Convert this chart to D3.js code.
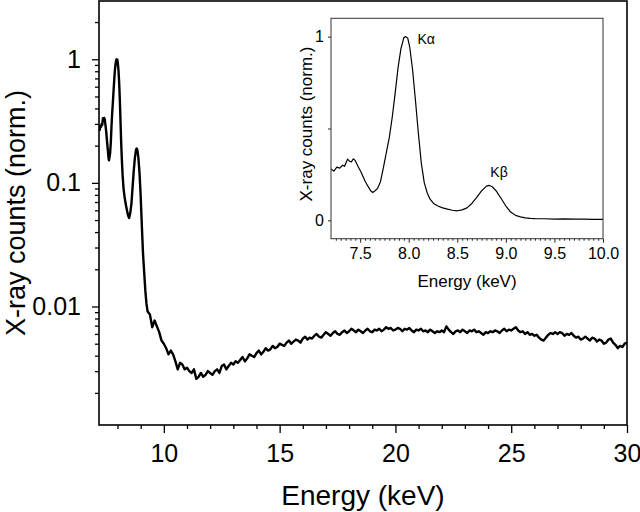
<!DOCTYPE html>
<html><head><meta charset="utf-8">
<script src="https://cdn.jsdelivr.net/npm/d3@7/dist/d3.min.js"></script>
<style>body{margin:0;background:#fff}svg{display:block}text{font-family:"Liberation Sans",Arial,sans-serif;fill:#000}</style>
</head><body><svg id="c" width="640" height="512"></svg>
<script>
// ---- data ----
// [energy keV, normalised counts] - characteristic line region
const peakSpectrum = [
[7.20,0.280],[7.23,0.268],[7.26,0.290],[7.29,0.284],[7.32,0.300],[7.34,0.294],[7.37,0.333],[7.39,0.322],
[7.41,0.318],[7.43,0.335],[7.45,0.325],[7.48,0.292],[7.51,0.262],[7.55,0.214],[7.58,0.186],[7.61,0.160],
[7.63,0.152],[7.65,0.160],[7.68,0.174],[7.71,0.212],[7.74,0.288],[7.77,0.370],[7.80,0.450],[7.83,0.560],
[7.86,0.690],[7.89,0.830],[7.92,0.935],[7.95,0.995],[7.97,1.000],[7.99,0.992],[8.01,0.945],[8.04,0.820],
[8.07,0.650],[8.10,0.470],[8.13,0.310],[8.16,0.205],[8.19,0.150],[8.22,0.115],[8.26,0.090],[8.30,0.078],
[8.35,0.068],[8.40,0.061],[8.45,0.055],[8.50,0.052],[8.55,0.057],[8.60,0.068],[8.65,0.092],[8.70,0.125],
[8.75,0.160],[8.80,0.186],[8.83,0.190],[8.86,0.183],[8.90,0.160],[8.95,0.120],[9.00,0.078],[9.05,0.045],
[9.10,0.027],[9.15,0.019],[9.20,0.0135],[9.25,0.0105]
];
// bremsstrahlung background
const backgroundSpectrum = [
[9.3,.0091],[9.4,.0086],[9.5,.0068],[9.6,.0077],[9.7,.0069],[9.8,.0062],[9.9,.0053],[10.0,.0050],
[10.1,.0046],[10.2,.0041],[10.3,.0044],[10.4,.0041],[10.5,.0036],[10.6,.0031],[10.7,.0035],[10.8,.0034],
[10.9,.0031],[11.0,.0032],[11.1,.0030],[11.2,.0029],[11.3,.0031],[11.4,.0026],[11.5,.0027],[11.6,.0029],
[11.7,.0027],[11.8,.0028],[11.9,.0030],[12.0,.0029],[12.1,.0028],[12.2,.0030],[12.3,.0031],[12.4,.0029],
[12.5,.0033],[12.6,.0034],[12.7,.0031],[12.8,.0033],[12.9,.0035],[13.0,.0034],[13.1,.0036],[13.2,.0035],
[13.3,.0037],[13.4,.0039],[13.5,.0036],[13.6,.0038],[13.7,.0041],[13.8,.0040],[13.9,.0039],[14.0,.0042],
[14.1,.0044],[14.2,.0041],[14.3,.0043],[14.4,.0046],[14.5,.0044],[14.6,.0045],[14.7,.0048],[14.8,.0046],
[14.9,.0047],[15.0,.0050],[15.1,.0049],[15.2,.0048],[15.3,.0051],[15.4,.0053],[15.5,.0050],[15.6,.0052],
[15.7,.0054],[15.8,.0053],[15.9,.0051],[16.0,.0055],[16.1,.0057],[16.2,.0054],[16.3,.0056],[16.4,.0055],
[16.5,.0058],[16.6,.0060],[16.7,.0057],[16.8,.0056],[16.9,.0059],[17.0,.0062],[17.1,.0060],[17.2,.0058],
[17.3,.0061],[17.4,.0063],[17.5,.0060],[17.6,.0059],[17.7,.0062],[17.8,.0064],[17.9,.0061],[18.0,.0063],
[18.1,.0066],[18.2,.0064],[18.3,.0062],[18.4,.0065],[18.5,.0063],[18.6,.0061],[18.7,.0064],[18.8,.0066],
[18.9,.0063],[19.0,.0062],[19.1,.0065],[19.2,.0064],[19.3,.0066],[19.4,.0063],[19.5,.0065],[19.6,.0068],
[19.7,.0066],[19.8,.0067],[19.9,.0064],[20.0,.0065],[20.1,.0067],[20.2,.0066],[20.3,.0063],[20.4,.0066],
[20.5,.0065],[20.6,.0067],[20.7,.0064],[20.8,.0062],[20.9,.0065],[21.0,.0064],[21.1,.0066],[21.2,.0063],
[21.3,.0064],[21.4,.0062],[21.5,.0065],[21.6,.0063],[21.7,.0061],[21.8,.0063],[21.9,.0062],[22.0,.0064],
[22.1,.0062],[22.2,.0069],[22.3,.0065],[22.4,.0062],[22.5,.0060],[22.6,.0063],[22.7,.0064],[22.8,.0062],
[22.9,.0065],[23.0,.0063],[23.1,.0061],[23.2,.0064],[23.3,.0063],[23.4,.0065],[23.5,.0062],[23.6,.0063],
[23.7,.0061],[23.8,.0059],[23.9,.0062],[24.0,.0061],[24.1,.0063],[24.2,.0062],[24.3,.0064],[24.4,.0063],
[24.5,.0061],[24.6,.0064],[24.7,.0066],[24.8,.0063],[24.9,.0065],[25.0,.0064],[25.1,.0066],[25.2,.0068],
[25.3,.0064],[25.4,.0062],[25.5,.0063],[25.6,.0060],[25.7,.0062],[25.8,.0059],[25.9,.0060],[26.0,.0058],
[26.1,.0059],[26.2,.0056],[26.3,.0054],[26.4,.0053],[26.5,.0056],[26.6,.0059],[26.7,.0061],[26.8,.0060],
[26.9,.0062],[27.0,.0060],[27.1,.0062],[27.2,.0061],[27.3,.0058],[27.4,.0060],[27.5,.0059],[27.6,.0061],
[27.7,.0058],[27.8,.0056],[27.9,.0057],[28.0,.0054],[28.1,.0055],[28.2,.0057],[28.3,.0055],[28.4,.0053],
[28.5,.0056],[28.6,.0055],[28.7,.0052],[28.8,.0054],[28.9,.0053],[29.0,.0050],[29.1,.0051],[29.2,.0054],
[29.3,.0055],[29.4,.0051],[29.5,.0049],[29.6,.0046],[29.7,.0048],[29.8,.0047],[29.9,.0050],[30.0,.0051]
];
const xMajorTicks = [10,15,20,25,30];
const xMinorTicks = [8,9,11,12,13,14,16,17,18,19,21,22,23,24,26,27,28,29];
const yMajorTicks = [1,0.1,0.01];
const yMajorLabels = ["1","0.1","0.01"];
const yMinorTicks = [2,0.9,0.8,0.7,0.6,0.5,0.4,0.3,0.2,0.09,0.08,0.07,0.06,0.05,0.04,0.03,0.02,0.009,0.008,0.007,0.006,0.005,0.004,0.003,0.002];
const insetXMajorTicks = [7.5,8.0,8.5,9.0,9.5,10.0];
const insetXMinorTicks = [7.25,7.3,7.35,7.4,7.45,7.55,7.6,7.65,7.7,7.75,7.8,7.85,7.9,7.95,8.05,8.1,8.15,8.2,8.25,8.3,8.35,8.4,8.45,8.55,8.6,8.65,8.7,8.75,8.8,8.85,8.9,8.95,9.05,9.1,9.15,9.2,9.25,9.3,9.35,9.4,9.45,9.55,9.6,9.65,9.7,9.75,9.8,9.85,9.9,9.95];
const insetYTicks = [0,0.5,1];
const insetYLabels = ["0","","1"];
const peakLabels = [{text:"Kα",e:8.18,v:0.985},{text:"Kβ",e:8.93,v:0.265}];

// ---- drawing ----
const svg = d3.select("#c");
const M = {l:99,r:627,t:1,b:425};
const x = d3.scaleLinear().domain([7.2,30]).range([M.l,M.r]);
const y = d3.scaleLog().domain([0.0011,2.96]).range([M.b,M.t]);
const spectrum = peakSpectrum.concat(backgroundSpectrum);

svg.append("clipPath").attr("id","mc").append("rect").attr("x",M.l).attr("y",M.t).attr("width",M.r-M.l).attr("height",M.b-M.t);
svg.append("path").datum(spectrum).attr("clip-path","url(#mc)")
  .attr("fill","none").attr("stroke","#000").attr("stroke-width",2.4).attr("stroke-linejoin","round")
  .attr("d",d3.line().x(d=>x(d[0])).y(d=>y(d[1])));

function styleAxis(g){g.select(".domain").remove();g.selectAll("line").attr("stroke","#000").attr("stroke-width",1.3);}
svg.append("g").attr("transform",`translate(0,${M.b})`)
  .call(d3.axisBottom(x).tickValues(xMinorTicks).tickSize(4).tickFormat(""))
  .call(styleAxis);
svg.append("g").attr("transform",`translate(0,${M.b})`)
  .call(d3.axisBottom(x).tickValues(xMajorTicks).tickSize(8).tickPadding(11).tickFormat(d3.format("d")))
  .call(styleAxis).call(g=>g.selectAll("text").attr("font-size",25));
svg.append("g").attr("transform",`translate(${M.l},0)`)
  .call(d3.axisLeft(y).tickValues(yMinorTicks).tickSize(4).tickFormat(""))
  .call(styleAxis);
svg.append("g").attr("transform",`translate(${M.l},0)`)
  .call(d3.axisLeft(y).tickValues(yMajorTicks).tickSize(7).tickPadding(11).tickFormat((d,i)=>yMajorLabels[i]))
  .call(styleAxis).call(g=>g.selectAll("text").attr("font-size",25));
svg.append("rect").attr("x",M.l).attr("y",M.t).attr("width",M.r-M.l).attr("height",M.b-M.t)
  .attr("fill","none").attr("stroke","#000").attr("stroke-width",1.6);
svg.append("text").attr("x",(M.l+M.r)/2).attr("y",505).attr("text-anchor","middle").attr("font-size",28).text("Energy (keV)");
svg.append("text").attr("transform",`translate(25,${(M.t+M.b)/2}) rotate(-90)`).attr("text-anchor","middle").attr("font-size",27).text("X-ray counts (norm.)");

// ---- inset ----
const I = {l:331,r:603,t:18.3,b:238.7};
const xi = d3.scaleLinear().domain([7.2,10]).range([I.l,I.r]);
const yi = d3.scaleLinear().domain([-0.1,1.1]).range([I.b,I.t]);
const insetData = spectrum.filter(d=>d[0]<=10);
svg.append("clipPath").attr("id","ic").append("rect").attr("x",I.l).attr("y",I.t).attr("width",I.r-I.l).attr("height",I.b-I.t);
svg.append("path").datum(insetData).attr("clip-path","url(#ic)")
  .attr("fill","none").attr("stroke","#000").attr("stroke-width",1.2).attr("stroke-linejoin","round")
  .attr("d",d3.line().x(d=>xi(d[0])).y(d=>yi(d[1])));
function styleInset(g){g.select(".domain").remove();g.selectAll("line").attr("stroke","#222").attr("stroke-width",1);}
svg.append("g").attr("transform",`translate(0,${I.b})`)
  .call(d3.axisBottom(xi).tickValues(insetXMinorTicks).tickSize(2).tickFormat(""))
  .call(styleInset);
svg.append("g").attr("transform",`translate(0,${I.b})`)
  .call(d3.axisBottom(xi).tickValues(insetXMajorTicks).tickSize(4).tickPadding(5).tickFormat(d3.format(".1f")))
  .call(styleInset).call(g=>g.selectAll("text").attr("font-size",16));
svg.append("g").attr("transform",`translate(${I.l},0)`)
  .call(d3.axisLeft(yi).tickValues(insetYTicks).tickSize(3).tickPadding(4).tickFormat((d,i)=>insetYLabels[i]))
  .call(styleInset).call(g=>g.selectAll("text").attr("font-size",16));
svg.append("rect").attr("x",I.l).attr("y",I.t).attr("width",I.r-I.l).attr("height",I.b-I.t)
  .attr("fill","none").attr("stroke","#333").attr("stroke-width",1);
svg.append("text").attr("x",(I.l+I.r)/2).attr("y",287).attr("text-anchor","middle").attr("font-size",17).text("Energy (keV)");
svg.append("text").attr("transform",`translate(312,124) rotate(-90)`).attr("text-anchor","middle").attr("font-size",17).text("X-ray counts (norm.)");
svg.selectAll("text.pk").data(peakLabels).enter().append("text").attr("class","pk")
  .attr("x",d=>xi(d.e)).attr("y",d=>yi(d.v)).attr("dy","0.35em").attr("text-anchor","middle").attr("font-size",14).text(d=>d.text);
</script></body></html>
